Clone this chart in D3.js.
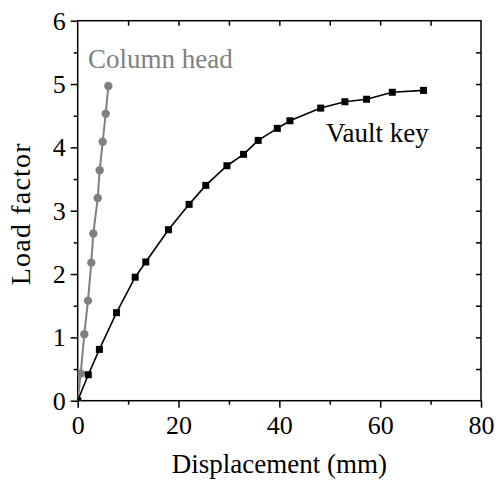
<!DOCTYPE html>
<html>
<head>
<meta charset="utf-8">
<script src="https://cdn.jsdelivr.net/npm/d3@7"></script>
</head>
<body style="margin:0">
<script>
// data
var vaultX = [0, 2.1, 4.3, 7.7, 11.4, 13.5, 18.0, 22.1, 25.4, 29.6, 32.9, 35.8, 39.6, 42.1, 48.2, 53.0, 57.3, 62.4, 68.6]
var vaultY = [0, 0.41, 0.81, 1.39, 1.95, 2.19, 2.70, 3.10, 3.40, 3.71, 3.89, 4.11, 4.30, 4.42, 4.62, 4.72, 4.76, 4.87, 4.90]
var columnX = [0, 0.60, 1.31, 2.04, 2.70, 3.10, 3.97, 4.36, 4.96, 5.55, 6.08]
var columnY = [0, 0.43, 1.05, 1.58, 2.18, 2.64, 3.20, 3.64, 4.09, 4.53, 4.97]
var xTicks = [0, 20, 40, 60, 80]
var yTicks = [0, 1, 2, 3, 4, 5, 6]

var W = 498, H = 487
var margin = {top: 20.7, right: 17, bottom: 86.3, left: 77.7},
    width = W - margin.left - margin.right,
    height = H - margin.top - margin.bottom

var x = d3.scaleLinear().domain([0, 80]).range([0, width])
var y = d3.scaleLinear().domain([0, 6]).range([height, 0])

var root = d3.select("body").append("svg")
    .attr("width", W)
    .attr("height", H)
    .style("font-family", "Liberation Serif")

var svg = root.append("g")
    .attr("transform", "translate(" + margin.left + "," + margin.top + ")")

svg.append("clipPath").attr("id", "clip")
  .append("rect").attr("width", width).attr("height", height)

var fs = 26

// bottom and left: major ticks outside, minor ticks shorter
svg.append("g").attr("transform", "translate(0," + height + ")")
  .call(d3.axisBottom(x).tickValues(xTicks).tickSize(7).tickPadding(8).tickSizeOuter(0).tickFormat(d3.format("d")))
svg.append("g").attr("transform", "translate(0," + height + ")")
  .call(d3.axisBottom(x).tickValues(d3.range(10, 80, 20)).tickSize(4).tickFormat("").tickSizeOuter(0))

svg.append("g")
  .call(d3.axisLeft(y).tickValues(yTicks).tickSize(7).tickPadding(5).tickSizeOuter(0).tickFormat(d3.format("d")))
svg.append("g")
  .call(d3.axisLeft(y).tickValues(d3.range(0.5, 6, 1)).tickSize(4).tickFormat("").tickSizeOuter(0))

// top and right: mirrored, ticks inside
svg.append("g")
  .call(d3.axisTop(x).tickValues(d3.range(10, 80, 10)).tickSize(-5).tickFormat("").tickSizeOuter(0))
svg.append("g").attr("transform", "translate(" + width + ",0)")
  .call(d3.axisRight(y).tickValues(d3.range(0.5, 6, 0.5)).tickSize(-5).tickFormat("").tickSizeOuter(0))

svg.selectAll(".domain").remove()
svg.selectAll("g").attr("font-family", null).attr("font-size", null)
svg.selectAll(".tick line").attr("stroke", "#000").attr("stroke-width", 1.5)
svg.selectAll(".tick text")
  .attr("fill", "#000")
  .style("font-family", "Liberation Serif")
  .style("font-size", fs + "px")

svg.append("rect")
  .attr("width", width).attr("height", height)
  .attr("fill", "none").attr("stroke", "#000").attr("stroke-width", 1.5)

// series
var columnData = columnX.map(function(d, i) { return [d, columnY[i]] })
var vaultData = vaultX.map(function(d, i) { return [d, vaultY[i]] })

var line = d3.line()
    .x(function(d) { return x(d[0]) })
    .y(function(d) { return y(d[1]) })

var plot = svg.append("g").attr("clip-path", "url(#clip)")

plot.append("path").datum(columnData)
  .attr("d", line).attr("fill", "none").attr("stroke", "#808080").attr("stroke-width", 2)
plot.selectAll("circle").data(columnData).enter().append("circle")
  .attr("cx", function(d) { return x(d[0]) })
  .attr("cy", function(d) { return y(d[1]) })
  .attr("r", 4.2)
  .attr("fill", "#808080")

plot.append("path").datum(vaultData)
  .attr("d", line).attr("fill", "none").attr("stroke", "#000").attr("stroke-width", 1.6)
var sq = 7
plot.selectAll("rect.pt").data(vaultData).enter().append("rect")
  .attr("class", "pt")
  .attr("x", function(d) { return x(d[0]) - sq / 2 })
  .attr("y", function(d) { return y(d[1]) - sq / 2 })
  .attr("width", sq).attr("height", sq)
  .attr("fill", "#000")

// labels
function label(t) {
  return t.style("font-family", "Liberation Serif")
    .attr("font-size", 27)
}

label(root.append("text"))
  .attr("x", 88).attr("y", 68)
  .attr("fill", "#808080")
  .text("Column head")

label(root.append("text"))
  .attr("x", 326).attr("y", 142)
  .attr("fill", "#000")
  .text("Vault key")

label(root.append("text"))
  .attr("x", margin.left + width / 2).attr("y", 473)
  .attr("text-anchor", "middle")
  .text("Displacement (mm)")

label(root.append("text"))
  .attr("transform", "translate(30," + (margin.top + height / 2 + 3) + ") rotate(-90)")
  .attr("text-anchor", "middle")
  .attr("font-size", 28)
  .style("letter-spacing", "1.2px")
  .text("Load factor")
</script>
</body>
</html>
